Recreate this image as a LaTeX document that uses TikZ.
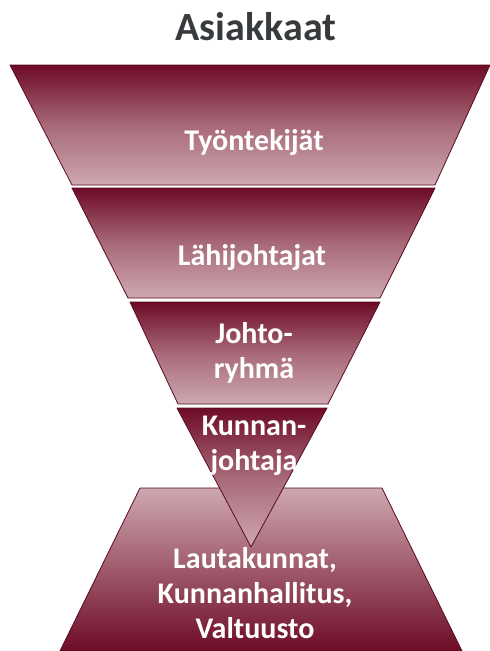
\documentclass[tikz,border=0pt]{standalone}
\usepackage{fontspec}
\setmainfont{Carlito}
\usetikzlibrary{positioning}
\definecolor{cwine}{HTML}{6E0B26}
\definecolor{cwinelight}{HTML}{CEA8B0}
\definecolor{cedge}{HTML}{5A0A20}
\definecolor{ctitle}{HTML}{383B3E}
\tikzset{
  every picture/.style={line join=round},
  layer/.style={top color=cwine, bottom color=cwinelight, middle color=cwine!40!cwinelight, draw=cedge, line width=0.6pt},
  basebox/.style={top color=cwinelight, bottom color=cwine, draw=cedge, line width=0.6pt},
  layertext/.style={text=white, font=\bfseries\fontsize{22.5}{26}\selectfont, align=center, inner sep=0pt, anchor=base},
  title/.style={text=ctitle, font=\bfseries\fontsize{30}{34}\selectfont, inner sep=0pt, anchor=base},
}
\begin{document}
\begin{tikzpicture}[x=0.75pt, y=-0.75pt]
  \useasboundingbox (0,0) rectangle (490,651);
  \node[title] (customers) at (256,40) {Asiakkaat};
  % the inverted triangle, top to bottom
  \path[layer] (10,65) -- (490,65) -- (435,185) -- (72,185) -- cycle;
  \path[layer] (72,188) -- (435,188) -- (380,298) -- (128,298) -- cycle;
  \path[layer] (130,302) -- (380,302) -- (328,404) -- (178,404) -- cycle;
  % base under the tip
  \path[basebox] (140,488) -- (382,488) -- (462,651) -- (60,651) -- cycle;
  \path[layer] (177,408) -- (327,408) -- (251,547) -- cycle;
  % base anchor of a multi-line node sits on its last line
  \node[layertext] (staff) at (254,150) {Työntekijät};
  \node[layertext] (supervisors) at (252,265) {Lähijohtajat};
  \node[layertext] (mgmt) at (254,378) {Johto-\\ryhmä};
  \node[layertext] (manager) at (254,470) {Kunnan-\\johtaja};
  \node[layertext] (council) at (255,638) {Lautakunnat,\\Kunnanhallitus,\\Valtuusto};
\end{tikzpicture}
\end{document}
